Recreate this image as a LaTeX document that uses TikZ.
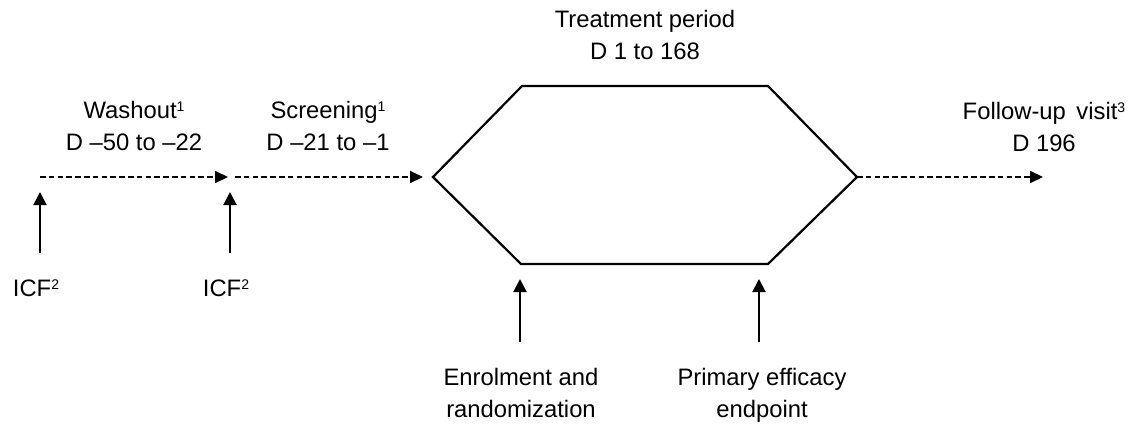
\documentclass[tikz,border=0pt]{standalone}
\usepackage{fontspec}
\setmainfont{Liberation Sans}
\usetikzlibrary{arrows.meta}
\newcommand\mysupr[1]{\raisebox{6.5pt}{\fontsize{14}{14}\selectfont #1}}
\begin{document}
\begin{tikzpicture}[x=1pt,y=-1pt,
  lbl/.style={font=\fontsize{23.8}{32}\selectfont, align=center, inner sep=0pt, anchor=base},
  dasharrow/.style={line width=2pt, dash pattern=on 5.5pt off 3.3pt, -{Triangle[length=13pt,width=12pt]}},
  uparrow/.style={line width=2pt, -{Triangle[length=13pt,width=13pt]}},
  hexline/.style={line width=2.2pt, line join=miter}]
\useasboundingbox (0,0) rectangle (1136,424);
% hexagon corners
\coordinate (hl) at (433,177);
\coordinate (htl) at (522,86);
\coordinate (htr) at (768,86);
\coordinate (hr) at (857,177);
\coordinate (hbr) at (768,264);
\coordinate (hbl) at (521,264);
\draw[hexline] (hl) -- (htl) -- (htr) -- (hr) -- (hbr) -- (hbl) -- cycle;
% timeline points
\coordinate (w0) at (40,177);
\coordinate (w1) at (228,177);
\coordinate (s0) at (235,177);
\coordinate (s1) at (423,177);
\coordinate (f1) at (1043,177);
\draw[dasharrow] (w0) -- (w1);
\draw[dasharrow] (s0) -- (s1);
\draw[dasharrow] (hr) -- (f1);
% labels (base anchor = baseline of last line)
\node[lbl] (treat) at (645,59) {Treatment period\\D 1 to 168};
\node[lbl] (wash) at (134,150) {Washout\mysupr{1}\\D \textendash50 to \textendash22};
\node[lbl] (scr) at (328,150) {Screening\mysupr{1}\\D \textendash21 to \textendash1};
\node[lbl] (fu) at (1044,151) {Follow-up\ \,visit\mysupr{3}\\D 196};
\node[lbl] (icfa) at (36,296) {ICF\mysupr{2}};
\node[lbl] (icfb) at (226,296) {ICF\mysupr{2}};
\node[lbl] (enr) at (521,417) {Enrolment and\\randomization};
\node[lbl] (prim) at (762,417) {Primary efficacy\\endpoint};
% vertical arrows
\coordinate (a1b) at (40,253);  \coordinate (a1t) at (40,192);
\coordinate (a2b) at (230,253); \coordinate (a2t) at (230,192);
\coordinate (a3b) at (520,342); \coordinate (a3t) at (520,279);
\coordinate (a4b) at (759,342); \coordinate (a4t) at (759,279);
\draw[uparrow] (a1b) -- (a1t);
\draw[uparrow] (a2b) -- (a2t);
\draw[uparrow] (a3b) -- (a3t);
\draw[uparrow] (a4b) -- (a4t);
\end{tikzpicture}
\end{document}
